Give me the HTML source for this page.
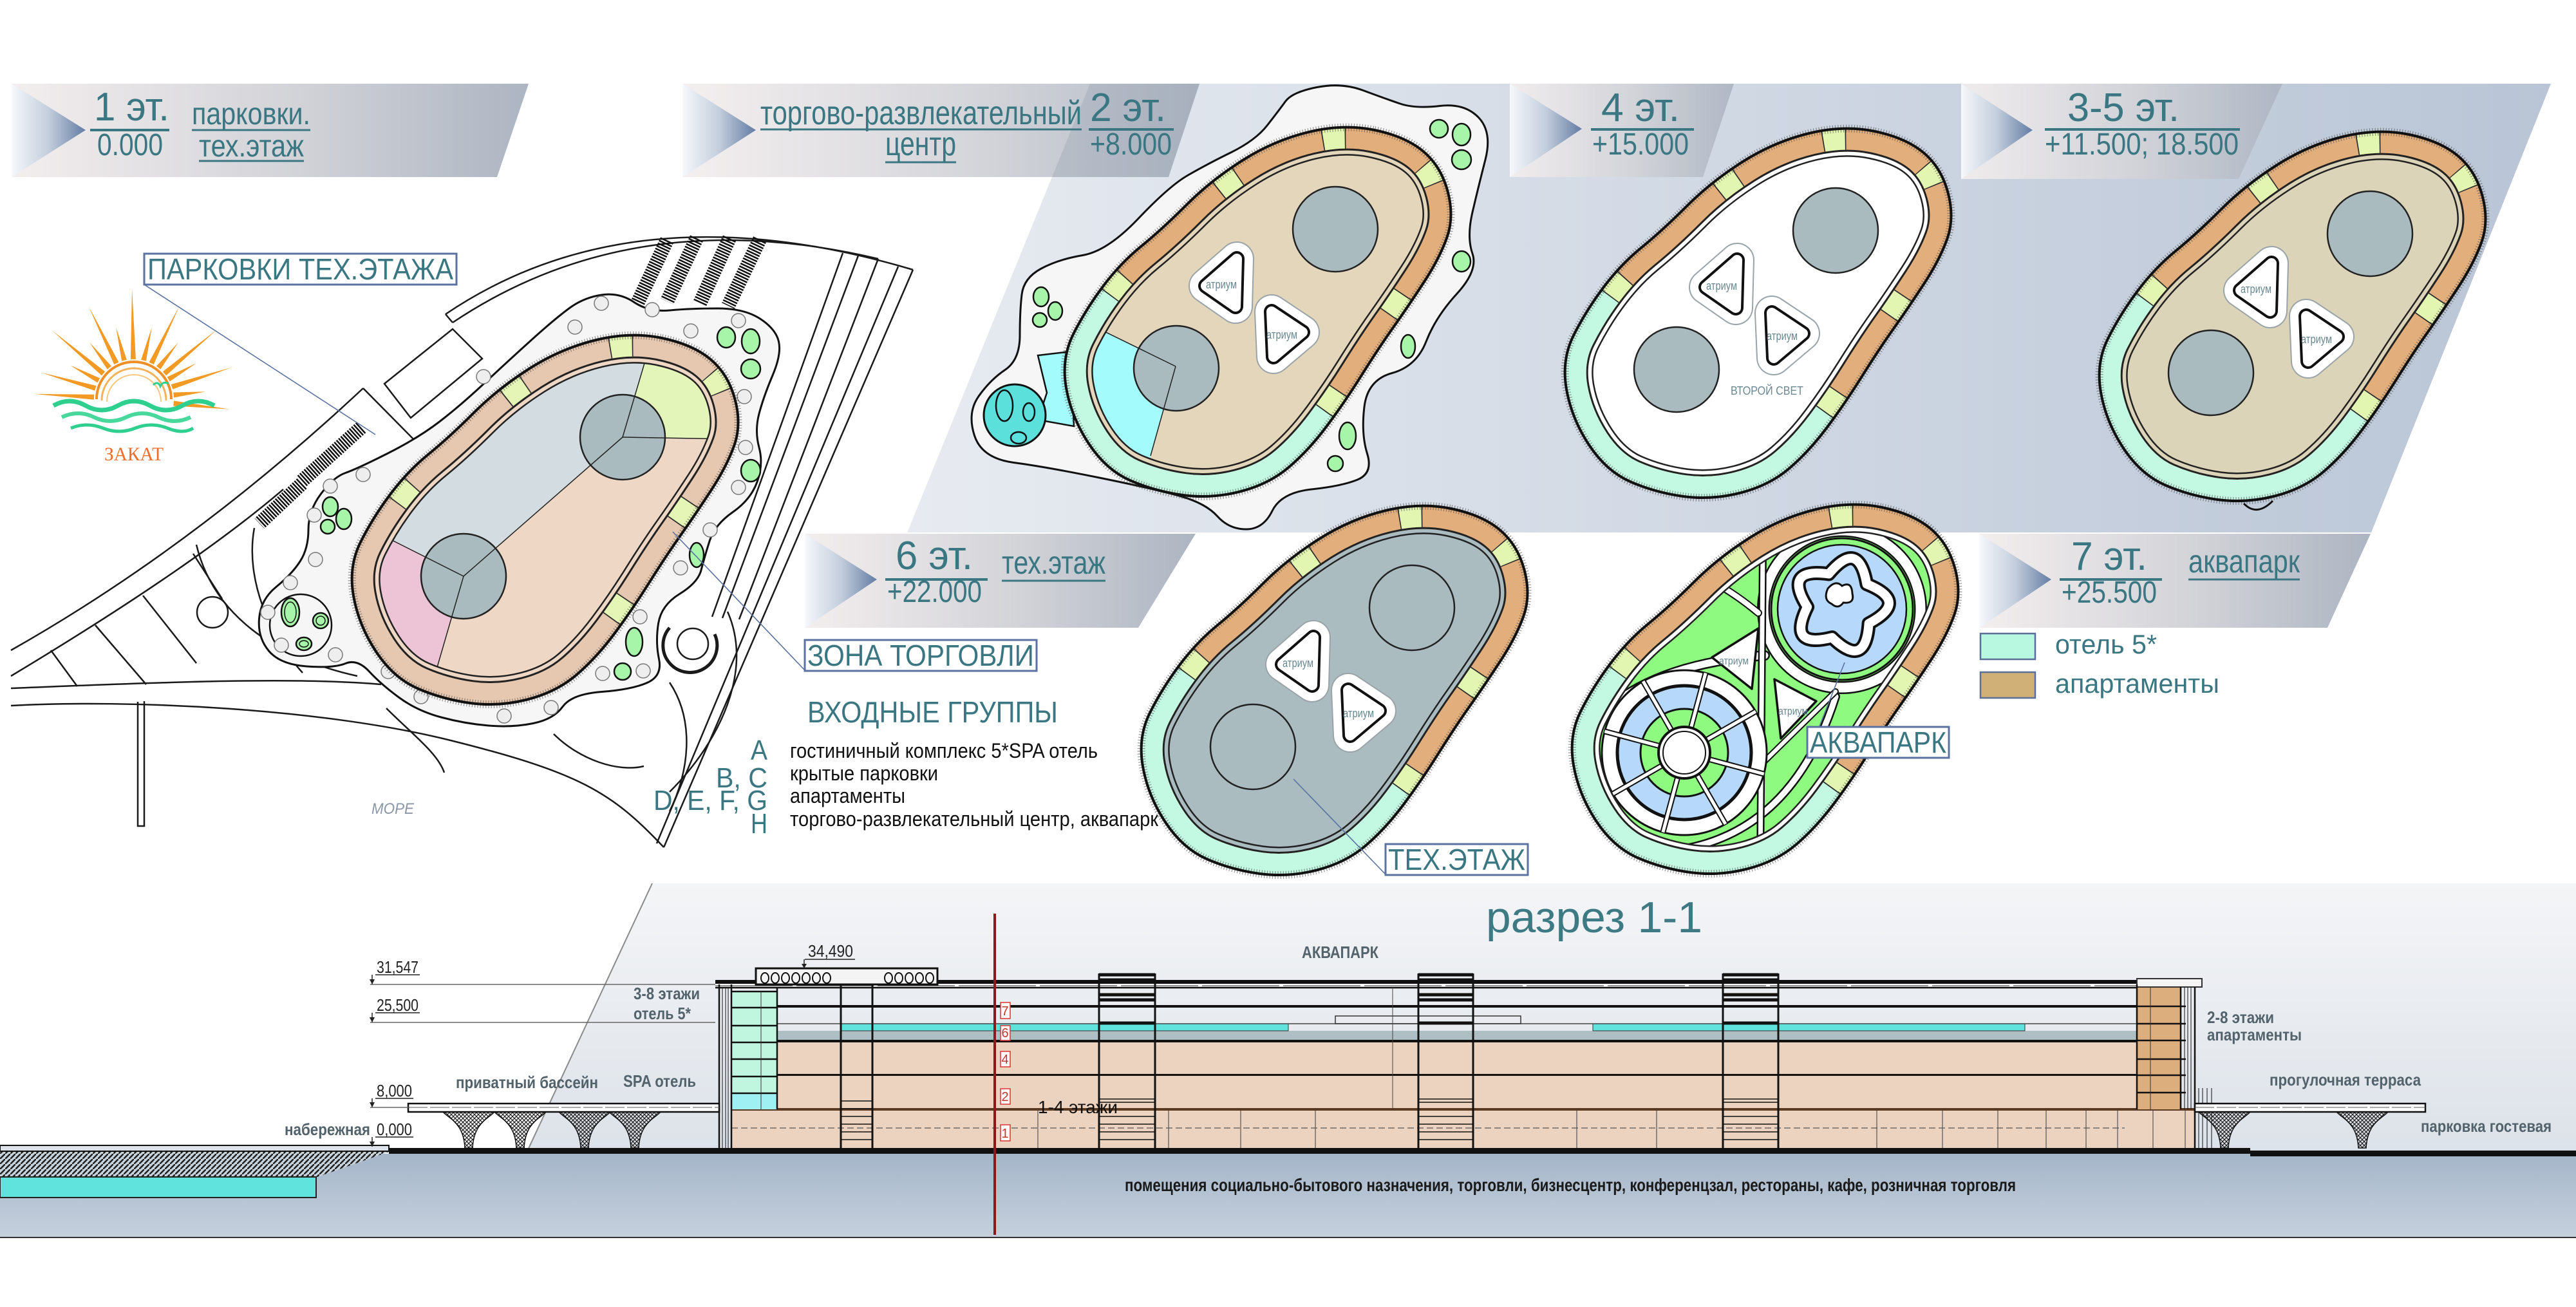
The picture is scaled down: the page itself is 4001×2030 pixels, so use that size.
<!DOCTYPE html>
<html><head><meta charset="utf-8">
<style>
html,body{margin:0;padding:0;background:#fff;width:4001px;height:2030px;overflow:hidden}
svg{display:block}
.n{font-family:"Liberation Sans Narrow","Liberation Sans",sans-serif}
.s{font-family:"Liberation Sans",sans-serif}
.tl{fill:#3b7782}
.g{fill:#52636b;font-weight:bold}
</style></head>
<body>
<svg width="4001" height="2030" viewBox="0 0 4001 2030" xmlns="http://www.w3.org/2000/svg">
<defs>
 <linearGradient id="bg1" x1="0" x2="1" y1="0" y2="0"><stop offset="0" stop-color="#f3eeee"/><stop offset=".55" stop-color="#d2d3d8"/><stop offset="1" stop-color="#adb5c2"/></linearGradient>
 <linearGradient id="chev" x1="0" x2="1" y1="0" y2="0"><stop offset="0" stop-color="#f6f8fb"/><stop offset=".5" stop-color="#c3cedd"/><stop offset="1" stop-color="#647da4"/></linearGradient>
 <linearGradient id="pan" gradientUnits="userSpaceOnUse" x1="1409" y1="0" x2="3960" y2="0"><stop offset="0" stop-color="#e7ebf1"/><stop offset="1" stop-color="#b9c5d6"/></linearGradient>
 <linearGradient id="sec" x1="0" y1="0" x2="0" y2="1"><stop offset="0" stop-color="#f4f5f7"/><stop offset="1" stop-color="#dce2e9"/></linearGradient>
 <linearGradient id="gnd" x1="0" y1="0" x2="0" y2="1"><stop offset="0" stop-color="#a5b6c9"/><stop offset="1" stop-color="#c5d0dd"/></linearGradient>
 <pattern id="lat" width="6" height="6" patternUnits="userSpaceOnUse"><path d="M0,0L6,6M6,0L0,6" stroke="#222" stroke-width="1.2"/></pattern>
 <pattern id="hat" width="8" height="8" patternUnits="userSpaceOnUse"><rect width="8" height="8" fill="#c9d3dc"/><path d="M0,8L8,0" stroke="#222" stroke-width="2.5"/></pattern>
 <path id="bean" d="M482,6 Q530,16 557.5,39 Q585,62 595.5,101 Q606,140 594.5,172.5 Q583,205 558.5,242.5 Q534,280 511,312.5 Q488,345 462,386.5 Q436,428 408,465.5 Q380,503 349,529.5 Q318,556 273,567.5 Q228,579 184.5,573 Q141,567 103,550.5 Q65,534 38,493 Q11,452 3,406.5 Q-5,361 14,323 Q33,285 60,249 Q87,213 119.5,186.5 Q152,160 190,122 Q228,84 277,53 Q326,22 380,9 Q434,-4 482,6 Z"/>
 <path id="beanL" pathLength="1000" d="M482,6 Q530,16 557.5,39 Q585,62 595.5,101 Q606,140 594.5,172.5 Q583,205 558.5,242.5 Q534,280 511,312.5 Q488,345 462,386.5 Q436,428 408,465.5 Q380,503 349,529.5 Q318,556 273,567.5 Q228,579 184.5,573 Q141,567 103,550.5 Q65,534 38,493 Q11,452 3,406.5 Q-5,361 14,323 Q33,285 60,249 Q87,213 119.5,186.5 Q152,160 190,122 Q228,84 277,53 Q326,22 380,9 Q434,-4 482,6 Z"/>
 <clipPath id="bc"><use href="#bean"/></clipPath>
 <g id="ring" clip-path="url(#bc)" fill="none">
  <use href="#bean" stroke="#222" stroke-width="88"/>
  <use href="#bean" stroke="currentColor" stroke-width="83"/>
  <use href="#bean" stroke="#222" stroke-width="72"/>
  <use href="#bean" stroke="#e2ae7c" stroke-width="66"/>
  <use href="#beanL" stroke="#c3f8e2" stroke-width="66" stroke-dasharray="0 303 421 276"/>
  <use href="#beanL" stroke="#2a2a2a" stroke-width="66" stroke-dasharray="0 56 22 113 22 79 22 399 22 112 22 84 22 25"/>
  <use href="#beanL" stroke="#e3f6b1" stroke-width="66" stroke-dasharray="0 57 20 115 20 81 20 401 20 114 20 86 20 26"/>
 </g>
 <g id="ringS" clip-path="url(#bc)" fill="none">
  <use href="#bean" stroke="#222" stroke-width="88"/>
  <use href="#bean" stroke="currentColor" stroke-width="83"/>
  <use href="#bean" stroke="#222" stroke-width="72"/>
  <use href="#bean" stroke="#e6c7af" stroke-width="66"/>
  <use href="#beanL" stroke="#2a2a2a" stroke-width="66" stroke-dasharray="0 56 22 113 22 79 22 399 22 112 22 84 22 25"/>
  <use href="#beanL" stroke="#e4f5b5" stroke-width="66" stroke-dasharray="0 57 20 115 20 81 20 401 20 114 20 86 20 26"/>
 </g>
 <g id="outl" fill="none">
  <use href="#bean" stroke="#444" stroke-width="12" stroke-dasharray="1.2 3" opacity=".55"/>
  <use href="#bean" stroke="#111" stroke-width="4"/>
 </g>
 <g id="circ" fill="#aabbbf" stroke="#222" stroke-width="2.5">
  <circle cx="421" cy="160" r="66"/><circle cx="174" cy="376" r="66"/>
 </g>
 <g id="atr">
  <g stroke-linejoin="round">
   <polygon points="268,206 266,280 220,248" fill="#fff" stroke="#9aa4a8" stroke-width="54"/>
   <polygon points="268,206 266,280 220,248" fill="#fff" stroke="#fff" stroke-width="50"/>
   <polygon points="268,206 266,280 220,248" fill="#111" stroke="#111" stroke-width="24"/>
   <polygon points="268,206 266,280 220,248" fill="#fff" stroke="#fff" stroke-width="16"/>
   <polygon points="322,288 370,320 325,358" fill="#fff" stroke="#9aa4a8" stroke-width="54"/>
   <polygon points="322,288 370,320 325,358" fill="#fff" stroke="#fff" stroke-width="50"/>
   <polygon points="322,288 370,320 325,358" fill="#111" stroke="#111" stroke-width="24"/>
   <polygon points="322,288 370,320 325,358" fill="#fff" stroke="#fff" stroke-width="16"/>
  </g>
  <text class="n" x="244" y="252" font-size="18" fill="#6a8891" text-anchor="middle" textLength="48" lengthAdjust="spacingAndGlyphs">атриум</text>
  <text class="n" x="338" y="330" font-size="18" fill="#6a8891" text-anchor="middle" textLength="48" lengthAdjust="spacingAndGlyphs">атриум</text>
 </g>
 <path id="col" d="M-40,1727 L40,1727 C30,1738 8,1744 6,1783 L-6,1783 C-8,1744 -30,1738 -40,1727Z" fill="url(#lat)" stroke="#111" stroke-width="1.5"/>
</defs>

<rect width="4001" height="2030" fill="#fff"/>

<!-- top panel -->
<polygon points="1693,130 3962,130 3683,827 1409,827" fill="url(#pan)"/>

<!-- banners -->
<polygon points="18,130 821,130 772,275 18,275" fill="url(#bg1)"/>
<polygon points="18,130 133,202 18,275" fill="url(#chev)"/>
<polygon points="1060,130 1863,130 1815,275 1060,275" fill="url(#bg1)" opacity=".93"/>
<polygon points="1693,130 1863,130 1815,275 1634,275" fill="#8d97a8" opacity=".25"/>
<polygon points="1060,130 1174,202 1060,275" fill="url(#chev)"/>
<polygon points="2345,130 2693,130 2645,275 2345,275" fill="url(#bg1)" opacity=".92"/>
<polygon points="2345,130 2457,200 2345,275" fill="url(#chev)"/>
<polygon points="3046,130 3545,130 3477,278 3046,278" fill="url(#bg1)" opacity=".92"/>
<polygon points="3046,130 3157,202 3046,278" fill="url(#chev)"/>
<polygon points="1250,829 1857,829 1768,975 1250,975" fill="url(#bg1)"/>
<polygon points="1250,829 1362,900 1250,975" fill="url(#chev)"/>
<polygon points="3074,829 3682,829 3615,975 3074,975" fill="url(#bg1)"/>
<polygon points="3074,829 3186,900 3074,975" fill="url(#chev)"/>

<!-- banner texts -->
<g class="n tl">
 <text x="146" y="187" font-size="62" textLength="117" lengthAdjust="spacingAndGlyphs">1 эт.</text>
 <text x="151" y="241" font-size="48" textLength="102" lengthAdjust="spacingAndGlyphs">0.000</text>
 <text x="298" y="193" font-size="48" textLength="184" lengthAdjust="spacingAndGlyphs">парковки.</text>
 <text x="309" y="243" font-size="48" textLength="163" lengthAdjust="spacingAndGlyphs">тех.этаж</text>
 <text x="1181" y="193" font-size="52" textLength="499" lengthAdjust="spacingAndGlyphs">торгово-развлекательный</text>
 <text x="1375" y="241" font-size="52" textLength="110" lengthAdjust="spacingAndGlyphs">центр</text>
 <text x="1693" y="188" font-size="62" textLength="118" lengthAdjust="spacingAndGlyphs">2 эт.</text>
 <text x="1693" y="240" font-size="48" textLength="127" lengthAdjust="spacingAndGlyphs">+8.000</text>
 <text x="2487" y="188" font-size="62" textLength="122" lengthAdjust="spacingAndGlyphs">4 эт.</text>
 <text x="2473" y="240" font-size="48" textLength="150" lengthAdjust="spacingAndGlyphs">+15.000</text>
 <text x="3211" y="188" font-size="62" textLength="174" lengthAdjust="spacingAndGlyphs">3-5 эт.</text>
 <text x="3176" y="240" font-size="48" textLength="301" lengthAdjust="spacingAndGlyphs">+11.500; 18.500</text>
 <text x="1391" y="884" font-size="62" textLength="120" lengthAdjust="spacingAndGlyphs">6 эт.</text>
 <text x="1378" y="935" font-size="48" textLength="147" lengthAdjust="spacingAndGlyphs">+22.000</text>
 <text x="1556" y="891" font-size="50" textLength="161" lengthAdjust="spacingAndGlyphs">тех.этаж</text>
 <text x="3217" y="885" font-size="62" textLength="118" lengthAdjust="spacingAndGlyphs">7 эт.</text>
 <text x="3202" y="936" font-size="48" textLength="148" lengthAdjust="spacingAndGlyphs">+25.500</text>
 <text x="3399" y="889" font-size="50" textLength="173" lengthAdjust="spacingAndGlyphs">аквапарк</text>
</g>
<g stroke="#3b7782" stroke-width="4">
 <line x1="140" y1="202" x2="263" y2="202"/>
 <line x1="298" y1="202" x2="482" y2="202" stroke-width="3"/>
 <line x1="309" y1="250" x2="472" y2="250" stroke-width="3"/>
 <line x1="1181" y1="201" x2="1680" y2="201" stroke-width="3"/>
 <line x1="1375" y1="252" x2="1485" y2="252" stroke-width="3"/>
 <line x1="1691" y1="201" x2="1823" y2="201"/>
 <line x1="2471" y1="201" x2="2631" y2="201"/>
 <line x1="3176" y1="201" x2="3479" y2="201"/>
 <line x1="1375" y1="900" x2="1534" y2="900"/>
 <line x1="1556" y1="902" x2="1717" y2="902" stroke-width="3"/>
 <line x1="3199" y1="900" x2="3358" y2="900"/>
 <line x1="3399" y1="900" x2="3572" y2="900" stroke-width="3"/>
</g>

<!-- logo -->
<g transform="translate(208,620)">
 <g fill="#f39a24">
  <polygon points="62,-4 150,0 62,4" transform="rotate(6)"/>
  <polygon points="62,-4 112,0 62,4" transform="rotate(-6)"/>
  <polygon points="62,-4 160,0 62,4" transform="rotate(-18)"/>
  <polygon points="62,-4 112,0 62,4" transform="rotate(-30)"/>
  <polygon points="62,-4 168,0 62,4" transform="rotate(-40)"/>
  <polygon points="62,-4 112,0 62,4" transform="rotate(-52)"/>
  <polygon points="62,-4 160,0 62,4" transform="rotate(-64)"/>
  <polygon points="62,-4 115,0 62,4" transform="rotate(-76)"/>
  <polygon points="62,-4 172,0 62,4" transform="rotate(-91)"/>
  <polygon points="62,-4 115,0 62,4" transform="rotate(-104)"/>
  <polygon points="62,-4 160,0 62,4" transform="rotate(-116)"/>
  <polygon points="62,-4 112,0 62,4" transform="rotate(-128)"/>
  <polygon points="62,-4 166,0 62,4" transform="rotate(-140)"/>
  <polygon points="62,-4 112,0 62,4" transform="rotate(-152)"/>
  <polygon points="62,-4 150,0 62,4" transform="rotate(-164)"/>
  <polygon points="62,-4 155,0 62,4" transform="rotate(-177)"/>
 </g>
 <g fill="none">
  <path d="M-58,0 A58,58 0 0 1 58,0" stroke="#f08f25" stroke-width="4"/>
  <path d="M-50,2 A50,50 0 0 1 50,2" stroke="#f4b35a" stroke-width="3"/>
  <path d="M-42,4 A42,42 0 0 1 42,4" stroke="#f7c87a" stroke-width="2"/>
  <path d="M-125,10 q25,-14 50,0 t50,0 t50,0 t50,0 t50,0" stroke="#2fcf8f" stroke-width="7"/>
  <path d="M-112,28 q25,-12 50,0 t50,0 t50,0 t50,0" stroke="#48d79c" stroke-width="6"/>
  <path d="M-98,45 q25,-10 50,0 t50,0 t50,0 t40,0" stroke="#2fcf8f" stroke-width="5"/>
  <path d="M30,-22 q7,-7 11,2 q4,-9 13,-4" stroke="#2fcf8f" stroke-width="3"/>
 </g>
</g>
<text x="162" y="715" font-family="Liberation Serif,serif" font-size="30" fill="#ef6d2a" textLength="92" lengthAdjust="spacingAndGlyphs">ЗАКАТ</text>

<!-- site plan roads -->
<g fill="none" stroke="#1a1a1a" stroke-width="2.5">
 <path d="M692,488 Q985,290 1418,419"/>
 <path d="M703,501 Q985,312 1364,402"/>
 <path d="M692,488 L703,501"/>
 <path d="M1418,419 L1031,1316"/>
 <path d="M1395,414 L1020,1310"/>
 <path d="M1309,393 L1106,958"/>
 <path d="M1333,397 L1122,960"/>
 <path d="M1364,402 L1148,962"/>
 <polygon points="597,596 703,511 749,557 638,649"/>
 <path d="M564,603 L648,688"/>
 <path d="M17,1010 Q300,850 564,603"/>
 <path d="M17,1050 Q300,880 440,760"/>
 <path d="M17,1069 C200,1062 450,1050 592,1063"/>
 <path d="M17,1096 C200,1086 500,1100 700,1150 S950,1230 1031,1316"/>
 <path d="M214,1090 L214,1283 L224,1283 L224,1089"/>
 <path d="M79,1010 L120,1066 M148,971 L227,1063 M222,925 L305,1030 M300,860 L345,930"/>
 <path d="M305,846 C330,950 420,1020 555,1050"/>
 <path d="M395,820 C380,900 420,990 470,1045"/>
 <path d="M600,1100 C640,1140 680,1170 690,1200"/>
 <path d="M860,1140 C900,1180 960,1200 1000,1190"/>
 <path d="M1040,1060 C1080,1120 1070,1200 1040,1260"/>
 <path d="M1130,950 C1170,1040 1120,1150 1040,1230"/>
 <circle cx="330" cy="951" r="24"/>
 <circle cx="1076" cy="1000" r="24"/>
 <path d="M1040,975 A42,42 0 1,0 1110,985" stroke-width="5"/>
</g>
<g stroke="#111" stroke-width="22" stroke-dasharray="2.5 2" fill="none">
 <line x1="1036" y1="373" x2="990" y2="471"/>
 <line x1="1082" y1="370" x2="1036" y2="468"/>
 <line x1="1133" y1="370" x2="1087" y2="471"/>
 <line x1="1180" y1="372" x2="1131" y2="475"/>
 <line x1="561" y1="664" x2="469" y2="747"/>
 <line x1="469" y1="751" x2="403" y2="813"/>
</g>
<!-- site blob -->
<path d="M536.5,734.5 Q555,728 602.5,704 Q650,680 682.5,655 Q715,630 752.5,595 Q790,560 826,527.5 Q862,495 884.5,478.5 Q907,462 934.5,458 Q962,454 985,469.5 Q1008,485 1040.5,482 Q1073,479 1114.5,479 Q1156,479 1180.5,495 Q1205,511 1209.5,530.5 Q1214,550 1200,583 Q1186,616 1179,642.5 Q1172,669 1179,695 Q1186,721 1176,748.5 Q1166,776 1138,795.5 Q1110,815 1102,840.5 Q1094,866 1089,885.5 Q1084,905 1055.5,922.5 Q1027,940 1022.5,968.5 Q1018,997 1023.5,1023.5 Q1029,1050 1005,1060.5 Q981,1071 934.5,1074.5 Q888,1078 874,1097.5 Q860,1117 828,1123.5 Q796,1130 759,1127 Q722,1124 685,1114 Q648,1104 620,1083.5 Q592,1063 573.5,1043 Q555,1023 536.5,1030.5 Q518,1038 476.5,1035 Q435,1032 417.5,1011 Q400,990 402.5,960.5 Q405,931 429,911.5 Q453,892 466,872 Q479,852 479,822.5 Q479,793 498.5,767 Q518,741 536.5,734.5 Z" fill="#f6f6f6" stroke="#111" stroke-width="3"/>
<circle cx="467" cy="971" r="48" fill="none" stroke="#111" stroke-width="2.5"/>
<g fill="#eeeeee" stroke="#777" stroke-width="1.5">
 <circle cx="934" cy="471" r="11"/><circle cx="893" cy="508" r="11"/><circle cx="1013" cy="481" r="11"/><circle cx="1073" cy="514" r="11"/><circle cx="1147" cy="498" r="11"/><circle cx="1156" cy="616" r="11"/><circle cx="1158" cy="695" r="11"/><circle cx="1147" cy="757" r="11"/><circle cx="1103" cy="823" r="11"/><circle cx="1057" cy="882" r="11"/><circle cx="994" cy="958" r="11"/><circle cx="936" cy="1046" r="11"/><circle cx="999" cy="1042" r="11"/><circle cx="856" cy="1099" r="11"/><circle cx="783" cy="1112" r="11"/><circle cx="654" cy="1082" r="11"/><circle cx="603" cy="1043" r="11"/><circle cx="521" cy="1017" r="11"/><circle cx="437" cy="1002" r="11"/><circle cx="416" cy="951" r="11"/><circle cx="451" cy="905" r="11"/><circle cx="490" cy="869" r="11"/><circle cx="488" cy="800" r="11"/><circle cx="513" cy="755" r="11"/><circle cx="564" cy="737" r="11"/><circle cx="751" cy="585" r="11"/>
</g>
<g fill="#a6f5a8" stroke="#111" stroke-width="2.5">
 <ellipse cx="1128" cy="524" rx="14" ry="16"/><ellipse cx="1166" cy="530" rx="14" ry="19"/><circle cx="1166" cy="573" r="15"/><ellipse cx="1166" cy="731" rx="15" ry="17"/><ellipse cx="1082" cy="862" rx="11" ry="19"/><ellipse cx="985" cy="997" rx="13" ry="22"/><circle cx="967" cy="1043" r="13"/><ellipse cx="513" cy="787" rx="12" ry="15"/><ellipse cx="534" cy="806" rx="12" ry="16"/><circle cx="509" cy="818" r="11"/><ellipse cx="451" cy="951" rx="14" ry="22"/><circle cx="498" cy="964" r="12"/><ellipse cx="472" cy="1000" rx="12" ry="10"/>
</g>
<g fill="none" stroke="#111" stroke-width="1.5"><ellipse cx="451" cy="951" rx="9" ry="16"/><circle cx="498" cy="964" r="7"/><ellipse cx="472" cy="1000" rx="7" ry="5"/></g>

<!-- site building -->
<g transform="translate(546,519)">
 <use href="#bean" fill="#eed8c5"/>
 <g clip-path="url(#bc)">
  <polygon points="174,376 421,160 458,35 470,-60 -60,-60 -60,290 37,307" fill="#d3dde1"/>
  <polygon points="421,160 458,35 470,-60 700,-60 700,165 592,163" fill="#e4f5b9"/>
  <polygon points="174,376 37,307 -60,290 -60,700 120,700 129,531" fill="#ecc4d6"/>
 </g>
 <use href="#circ" fill="#b2c3c7"/>
 <g stroke="#222" stroke-width="1.5"><line x1="174" y1="376" x2="421" y2="160"/><line x1="421" y1="160" x2="458" y2="35"/><line x1="421" y1="160" x2="592" y2="163"/><line x1="174" y1="376" x2="37" y2="307"/><line x1="174" y1="376" x2="129" y2="531"/></g>
 <use href="#ringS" color="#eed8c5"/>
 <use href="#outl"/>
</g>

<!-- plan 2 blob -->
<path d="M1996.5,157.5 Q2007,143 2045.5,135.5 Q2084,128 2117.5,140.5 Q2151,153 2174.5,161 Q2198,169 2236.5,164.5 Q2275,160 2296.5,182.5 Q2318,205 2307,248 Q2296,291 2287,329.5 Q2278,368 2287,394 Q2296,420 2263,456 Q2230,492 2215,530.5 Q2200,569 2162,579.5 Q2124,590 2119,632 Q2114,674 2123.5,704.5 Q2133,735 2108.5,745 Q2084,755 2037,760 Q1990,765 1976,793.5 Q1962,822 1935.5,822 Q1909,822 1891,802 Q1873,782 1834.5,771 Q1796,760 1710,742.5 Q1624,725 1574.5,718.5 Q1525,712 1513.5,676.5 Q1502,641 1520,615.5 Q1538,590 1561,574.5 Q1584,559 1584,521 Q1584,483 1587,457.5 Q1590,432 1616.5,417.5 Q1643,403 1681.5,396.5 Q1720,390 1768,339.5 Q1816,289 1844.5,272.5 Q1873,256 1911.5,237 Q1950,218 1968,195 Q1986,172 1996.5,157.5 Z" fill="#f6f6f6" stroke="#111" stroke-width="3"/>
<g fill="#a6f5a8" stroke="#111" stroke-width="2.5">
 <circle cx="2235" cy="200" r="14"/><ellipse cx="2270" cy="209" rx="14" ry="17"/><circle cx="2270" cy="248" r="15"/><ellipse cx="2270" cy="406" rx="14" ry="16"/><ellipse cx="2187" cy="538" rx="11" ry="18"/><ellipse cx="2093" cy="677" rx="13" ry="21"/><circle cx="2074" cy="720" r="12"/><ellipse cx="1617" cy="461" rx="12" ry="15"/><ellipse cx="1639" cy="483" rx="11" ry="14"/><circle cx="1615" cy="497" r="11"/>
</g>
<polygon points="1612,552 1662,546 1668,662 1612,652 1626,610" fill="#a3fbfb" stroke="#111" stroke-width="2.5"/>
<circle cx="1576" cy="645" r="48" fill="#5be0dc" stroke="#111" stroke-width="3"/>
<g fill="none" stroke="#111" stroke-width="2.5"><ellipse cx="1560" cy="630" rx="13" ry="24"/><ellipse cx="1598" cy="640" rx="9" ry="14"/><ellipse cx="1582" cy="680" rx="12" ry="9"/></g>

<!-- plan 2 -->
<g transform="translate(1653,196)">
 <use href="#bean" fill="#e4d6ba"/>
 <g clip-path="url(#bc)"><polygon points="173,373 36,306 -60,290 -60,700 110,700 134,512" fill="#a3fbfb"/></g>
 <use href="#circ"/>
 <g stroke="#222" stroke-width="1.5"><line x1="36" y1="306" x2="173" y2="373"/><line x1="173" y1="373" x2="134" y2="512"/></g>
 <use href="#atr"/>
 <use href="#ring" color="#e4d6ba"/>
 <use href="#outl"/>
</g>

<!-- plan 4 -->
<g transform="translate(2430,198)">
 <use href="#bean" fill="#ffffff"/>
 <use href="#circ"/>
 <use href="#atr"/>
 <text class="n" x="258" y="415" font-size="18" fill="#6a8891" textLength="113" lengthAdjust="spacingAndGlyphs">ВТОРОЙ СВЕТ</text>
 <use href="#ring" color="#ffffff"/>
 <use href="#outl"/>
</g>

<!-- plan 3-5 -->
<g transform="translate(3260,203)">
 <use href="#bean" fill="#dcd4b9"/>
 <use href="#circ"/>
 <use href="#atr"/>
 <use href="#ring" color="#dcd4b9"/>
 <use href="#outl"/>
 <path d="M225,579 Q245,600 270,575" fill="none" stroke="#111" stroke-width="3"/>
</g>

<!-- plan 6 -->
<g transform="translate(1772,784)">
 <use href="#bean" fill="#abbcc0"/>
 <use href="#circ" fill="none"/>
 <use href="#atr"/>
 <use href="#ring" color="#abbcc0"/>
 <use href="#outl"/>
</g>

<!-- plan 7 -->
<g transform="translate(2441,782)">
 <use href="#bean" fill="#8efb80"/>
 <g clip-path="url(#bc)">
  <g fill="none" stroke-linecap="round">
   <circle cx="420" cy="164" r="122" stroke="#111" stroke-width="20"/>
   <circle cx="420" cy="164" r="122" stroke="#fff" stroke-width="15"/>
   <path d="M30,345 Q110,250 300,236" stroke="#111" stroke-width="16"/>
   <path d="M30,345 Q110,250 300,236" stroke="#fff" stroke-width="11"/>
   <path d="M150,540 Q340,520 410,300" stroke="#111" stroke-width="14"/>
   <path d="M150,540 Q340,520 410,300" stroke="#fff" stroke-width="9"/>
   <line x1="293" y1="570" x2="297" y2="70" stroke="#111" stroke-width="12"/>
   <line x1="293" y1="570" x2="297" y2="70" stroke="#fff" stroke-width="7"/>
   <line x1="300" y1="400" x2="410" y2="292" stroke="#111" stroke-width="10"/>
   <line x1="300" y1="400" x2="410" y2="292" stroke="#fff" stroke-width="6"/>
   <path d="M170,100 Q230,120 290,170" stroke="#111" stroke-width="12"/>
   <path d="M170,100 Q230,120 290,170" stroke="#fff" stroke-width="8"/>
  </g>
  <circle cx="420" cy="164" r="110" fill="#8efb80" stroke="#111" stroke-width="3"/>
  <circle cx="420" cy="164" r="100" fill="#b5d8fb" stroke="#111" stroke-width="2.5"/>
  <path d="M399.4,109.5 Q446,53.7 458.4,125.3 Q525.9,152.3 461.6,186.3 Q456.7,258.8 404.5,208.2 Q334.1,226 366.1,160.7 Q327.4,99.2 399.4,109.5 Z" fill="#b5d8fb" stroke="#111" stroke-width="22" stroke-linejoin="round"/>
  <path d="M399.4,109.5 Q446,53.7 458.4,125.3 Q525.9,152.3 461.6,186.3 Q456.7,258.8 404.5,208.2 Q334.1,226 366.1,160.7 Q327.4,99.2 399.4,109.5 Z" fill="none" stroke="#fff" stroke-width="14" stroke-linejoin="round"/>
  <path d="M398,132 Q410,118 420,128 Q435,120 436,140 Q440,156 422,154 Q414,165 404,156 Q390,150 398,132Z" fill="#fff" stroke="#111" stroke-width="3"/>
  <circle cx="175" cy="387" r="128" fill="#fff" stroke="#111" stroke-width="3"/>
  <circle cx="175" cy="387" r="104" fill="#b5d8fb" stroke="#111" stroke-width="5"/>
  <circle cx="175" cy="387" r="68" fill="#8efb80" stroke="#111" stroke-width="3"/>
  <g transform="translate(175,387)" stroke-linecap="butt">
   <g stroke="#111" stroke-width="9">
    <line x1="36" y1="0" x2="128" y2="0" transform="rotate(15)"/><line x1="36" y1="0" x2="128" y2="0" transform="rotate(60)"/><line x1="36" y1="0" x2="128" y2="0" transform="rotate(105)"/><line x1="36" y1="0" x2="128" y2="0" transform="rotate(150)"/><line x1="36" y1="0" x2="128" y2="0" transform="rotate(195)"/><line x1="36" y1="0" x2="128" y2="0" transform="rotate(240)"/><line x1="36" y1="0" x2="128" y2="0" transform="rotate(285)"/><line x1="36" y1="0" x2="128" y2="0" transform="rotate(330)"/>
   </g>
   <g stroke="#fff" stroke-width="5">
    <line x1="36" y1="0" x2="128" y2="0" transform="rotate(15)"/><line x1="36" y1="0" x2="128" y2="0" transform="rotate(60)"/><line x1="36" y1="0" x2="128" y2="0" transform="rotate(105)"/><line x1="36" y1="0" x2="128" y2="0" transform="rotate(150)"/><line x1="36" y1="0" x2="128" y2="0" transform="rotate(195)"/><line x1="36" y1="0" x2="128" y2="0" transform="rotate(240)"/><line x1="36" y1="0" x2="128" y2="0" transform="rotate(285)"/><line x1="36" y1="0" x2="128" y2="0" transform="rotate(330)"/>
   </g>
   <circle r="40" fill="#fff" stroke="#111" stroke-width="4"/>
   <circle r="33" fill="none" stroke="#111" stroke-width="2"/>
  </g>
  <polygon points="218,239 290,194 280,288" fill="#fff" stroke="#111" stroke-width="3.5" stroke-linejoin="round"/>
  <polygon points="315,273 380,307 325,365" fill="#fff" stroke="#111" stroke-width="3.5" stroke-linejoin="round"/>
  <text class="n" x="252" y="250" font-size="17" fill="#6a8891" text-anchor="middle" textLength="46" lengthAdjust="spacingAndGlyphs">атриум</text>
  <text class="n" x="344" y="328" font-size="17" fill="#6a8891" text-anchor="middle" textLength="46" lengthAdjust="spacingAndGlyphs">атриум</text>
 </g>
 <use href="#ring" color="#ffffff"/>
 <use href="#outl"/>
</g>

<!-- leaders -->
<g stroke="#5a72a0" stroke-width="1.6" fill="none">
 <line x1="224" y1="442" x2="583" y2="675"/>
 <line x1="1250" y1="1041" x2="1045" y2="826"/>
 <line x1="2152" y1="1358" x2="2009" y2="1210"/>
 <line x1="2807" y1="1176" x2="2865" y2="1029"/>
</g>
<!-- label boxes -->
<g fill="#fff" stroke="#5b73a0" stroke-width="3">
 <rect x="224" y="394" width="485" height="48"/>
 <rect x="1250" y="994" width="360" height="48"/>
 <rect x="2152" y="1311" width="221" height="48"/>
 <rect x="2807" y="1129" width="220" height="48"/>
</g>
<g class="n tl">
 <text x="229" y="434" font-size="46" textLength="475" lengthAdjust="spacingAndGlyphs">ПАРКОВКИ ТЕХ.ЭТАЖА</text>
 <text x="1254" y="1034" font-size="46" textLength="352" lengthAdjust="spacingAndGlyphs">ЗОНА ТОРГОВЛИ</text>
 <text x="2156" y="1351" font-size="46" textLength="213" lengthAdjust="spacingAndGlyphs">ТЕХ.ЭТАЖ</text>
 <text x="2811" y="1169" font-size="46" textLength="212" lengthAdjust="spacingAndGlyphs">АКВАПАРК</text>
 <text x="1254" y="1122" font-size="46" textLength="389" lengthAdjust="spacingAndGlyphs">ВХОДНЫЕ ГРУППЫ</text>
 <text x="1166" y="1180" font-size="44" textLength="26" lengthAdjust="spacingAndGlyphs">A</text>
 <text x="1112" y="1223" font-size="44" textLength="80" lengthAdjust="spacingAndGlyphs">B, C</text>
 <text x="1015" y="1258" font-size="44" textLength="177" lengthAdjust="spacingAndGlyphs">D, E, F, G</text>
 <text x="1166" y="1294" font-size="44" textLength="26" lengthAdjust="spacingAndGlyphs">H</text>
 <text x="3192" y="1015" font-size="42" textLength="158" lengthAdjust="spacingAndGlyphs">отель 5*</text>
 <text x="3192" y="1076" font-size="42" textLength="255" lengthAdjust="spacingAndGlyphs">апартаменты</text>
</g>
<g class="n" fill="#111" font-size="32">
 <text x="1227" y="1177" textLength="478" lengthAdjust="spacingAndGlyphs">гостиничный комплекс 5*SPA отель</text>
 <text x="1227" y="1212" textLength="230" lengthAdjust="spacingAndGlyphs">крытые парковки</text>
 <text x="1227" y="1247" textLength="179" lengthAdjust="spacingAndGlyphs">апартаменты</text>
 <text x="1227" y="1283" textLength="572" lengthAdjust="spacingAndGlyphs">торгово-развлекательный центр, аквапарк</text>
</g>
<text class="n" x="577" y="1264" font-size="24" font-style="italic" fill="#8a96a6" textLength="66" lengthAdjust="spacingAndGlyphs">МОРЕ</text>
<rect x="3076" y="984" width="85" height="40" fill="#b8f7e0" stroke="#5a6f95" stroke-width="2.5"/>
<rect x="3076" y="1044" width="85" height="40" fill="#d1b078" stroke="#5a6f95" stroke-width="2.5"/>

<!-- SECTION -->
<polygon points="1013,1372 4001,1372 4001,1792 818,1792" fill="url(#sec)"/>
<line x1="1013" y1="1372" x2="818" y2="1790" stroke="#8a8a8a" stroke-width="2"/>
<rect x="0" y="1792" width="4001" height="131" fill="url(#gnd)"/>
<line x1="0" y1="1922" x2="4001" y2="1922" stroke="#333" stroke-width="2"/>
<rect x="0" y="1779" width="604" height="9" fill="#dde3ea" stroke="#111" stroke-width="2"/>
<polygon points="0,1789 604,1789 493,1828 0,1828" fill="url(#hat)"/>
<rect x="0" y="1828" width="491" height="32" fill="#5fe3dc" stroke="#222" stroke-width="2"/>

<!-- building -->
<rect x="1136" y="1723" width="2273" height="60" fill="#ebd3c0"/>
<rect x="1207" y="1616" width="2112" height="107" fill="#ebd3c0"/>
<rect x="1207" y="1601" width="2112" height="15" fill="#aebfc4"/>
<rect x="1306" y="1590" width="695" height="11" fill="#5fe3dc" stroke="#333" stroke-width="1"/>
<rect x="2474" y="1590" width="671" height="11" fill="#5fe3dc" stroke="#333" stroke-width="1"/>
<line x1="1207" y1="1590" x2="3319" y2="1590" stroke="#444" stroke-width="1.5"/>
<rect x="2074" y="1578" width="288" height="12" fill="none" stroke="#333" stroke-width="1.5"/>
<rect x="1111" y="1522" width="2208" height="6" fill="#111"/>
<rect x="1111" y="1528" width="2208" height="5" fill="#fafafa"/>
<line x1="1111" y1="1534" x2="3319" y2="1534" stroke="#111" stroke-width="2.5"/>
<line x1="1111" y1="1531" x2="3319" y2="1531" stroke="#333" stroke-width="1" stroke-dasharray="120 6"/>
<rect x="1207" y="1561" width="2112" height="4" fill="#111"/>
<rect x="1207" y="1615" width="2112" height="4" fill="#111"/>
<rect x="1136" y="1668" width="2183" height="3" fill="#111"/>
<rect x="1136" y="1721" width="2273" height="4" fill="#5a3a22"/>
<line x1="2163" y1="1534" x2="2163" y2="1721" stroke="#444" stroke-width="1"/>
<g stroke="#555" stroke-width="1.2">
 <line x1="1612" y1="1725" x2="1612" y2="1783"/><line x1="1815" y1="1725" x2="1815" y2="1783"/><line x1="1927" y1="1725" x2="1927" y2="1783"/><line x1="2043" y1="1725" x2="2043" y2="1783"/><line x1="2449" y1="1725" x2="2449" y2="1783"/><line x1="2573" y1="1725" x2="2573" y2="1783"/><line x1="2915" y1="1725" x2="2915" y2="1783"/><line x1="3017" y1="1725" x2="3017" y2="1783"/><line x1="3103" y1="1725" x2="3103" y2="1783"/><line x1="3178" y1="1725" x2="3178" y2="1783"/><line x1="3240" y1="1725" x2="3240" y2="1783"/><line x1="3289" y1="1725" x2="3289" y2="1783"/><line x1="3344" y1="1725" x2="3344" y2="1783"/><line x1="3394" y1="1725" x2="3394" y2="1783"/>
 <line x1="1136" y1="1752" x2="3300" y2="1752" stroke-dasharray="10 5"/>
</g>
<!-- stair towers -->
<g fill="none" stroke="#111">
 <g stroke-width="3">
  <line x1="1707" y1="1512" x2="1707" y2="1783"/><line x1="1794" y1="1512" x2="1794" y2="1783"/>
  <line x1="2203" y1="1512" x2="2203" y2="1783"/><line x1="2288" y1="1512" x2="2288" y2="1783"/>
  <line x1="2676" y1="1512" x2="2676" y2="1783"/><line x1="2762" y1="1512" x2="2762" y2="1783"/>
  <line x1="1306" y1="1504" x2="1306" y2="1783"/><line x1="1355" y1="1504" x2="1355" y2="1783"/>
 </g>
 <g stroke-width="5">
  <path d="M1707,1514 L1794,1514 M1707,1522 L1794,1522 M1707,1545 L1794,1545 M1707,1553 L1794,1553 M1707,1589 L1794,1589"/>
  <path d="M2203,1514 L2288,1514 M2203,1522 L2288,1522 M2203,1545 L2288,1545 M2203,1553 L2288,1553 M2203,1589 L2288,1589"/>
  <path d="M2676,1514 L2762,1514 M2676,1522 L2762,1522 M2676,1545 L2762,1545 M2676,1553 L2762,1553 M2676,1589 L2762,1589"/>
 </g>
 <g stroke-width="1.5">
  <path d="M1707,1707 L1794,1707 M1707,1712 L1794,1712 M1707,1734 L1794,1734 M1707,1746 L1794,1746 M1707,1758 L1794,1758 M1707,1770 L1794,1770"/>
  <path d="M2203,1707 L2288,1707 M2203,1712 L2288,1712 M2203,1734 L2288,1734 M2203,1746 L2288,1746 M2203,1758 L2288,1758 M2203,1770 L2288,1770"/>
  <path d="M2676,1707 L2762,1707 M2676,1712 L2762,1712 M2676,1734 L2762,1734 M2676,1746 L2762,1746 M2676,1758 L2762,1758 M2676,1770 L2762,1770"/>
  <path d="M1306,1710 L1355,1710 M1306,1722 L1355,1722 M1306,1734 L1355,1734 M1306,1746 L1355,1746 M1306,1758 L1355,1758 M1306,1770 L1355,1770"/>
 </g>
</g>
<!-- hotel tower -->
<rect x="1136" y="1540" width="71" height="158" fill="#c0f5df"/>
<rect x="1136" y="1698" width="71" height="25" fill="#9ff0f2"/>
<g stroke="#111" stroke-width="2.5">
 <line x1="1136" y1="1540" x2="1207" y2="1540"/><line x1="1136" y1="1565" x2="1207" y2="1565"/><line x1="1136" y1="1593" x2="1207" y2="1593"/><line x1="1136" y1="1619" x2="1207" y2="1619"/><line x1="1136" y1="1645" x2="1207" y2="1645"/><line x1="1136" y1="1672" x2="1207" y2="1672"/><line x1="1136" y1="1698" x2="1207" y2="1698"/>
 <line x1="1136" y1="1529" x2="1136" y2="1783"/><line x1="1207" y1="1534" x2="1207" y2="1723"/><line x1="1117" y1="1529" x2="1117" y2="1783"/>
</g>
<line x1="1182" y1="1540" x2="1182" y2="1723" stroke="#333" stroke-width="1"/>
<g stroke="#111" stroke-width="1"><line x1="1122" y1="1534" x2="1122" y2="1783"/><line x1="1127" y1="1534" x2="1127" y2="1783"/><line x1="1131" y1="1534" x2="1131" y2="1783"/></g>
<!-- top structure -->
<rect x="1174" y="1504" width="282" height="25" fill="#f4f4f4" stroke="#111" stroke-width="3"/>
<g fill="none" stroke="#111" stroke-width="2">
 <ellipse cx="1188" cy="1519" rx="6" ry="8"/><ellipse cx="1204" cy="1519" rx="6" ry="8"/><ellipse cx="1220" cy="1519" rx="6" ry="8"/><ellipse cx="1236" cy="1519" rx="6" ry="8"/><ellipse cx="1252" cy="1519" rx="6" ry="8"/><ellipse cx="1268" cy="1519" rx="6" ry="8"/><ellipse cx="1284" cy="1519" rx="6" ry="8"/><ellipse cx="1380" cy="1519" rx="6" ry="8"/><ellipse cx="1396" cy="1519" rx="6" ry="8"/><ellipse cx="1412" cy="1519" rx="6" ry="8"/><ellipse cx="1428" cy="1519" rx="6" ry="8"/><ellipse cx="1444" cy="1519" rx="6" ry="8"/>
</g>
<!-- apartment tower -->
<rect x="3319" y="1529" width="68" height="194" fill="#dcae7e"/>
<rect x="3319" y="1520" width="101" height="13" fill="#f4f4f4" stroke="#333" stroke-width="2"/>
<g stroke="#111" stroke-width="2.5">
 <line x1="3319" y1="1563" x2="3395" y2="1563"/><line x1="3319" y1="1590" x2="3395" y2="1590"/><line x1="3319" y1="1616" x2="3395" y2="1616"/><line x1="3319" y1="1645" x2="3395" y2="1645"/><line x1="3319" y1="1670" x2="3395" y2="1670"/><line x1="3319" y1="1697" x2="3395" y2="1697"/>
 <line x1="3319" y1="1529" x2="3319" y2="1723"/><line x1="3387" y1="1533" x2="3387" y2="1723"/><line x1="3409" y1="1533" x2="3409" y2="1783"/>
</g>
<line x1="3340" y1="1533" x2="3340" y2="1723" stroke="#333" stroke-width="1"/>
<g stroke="#111" stroke-width="1"><line x1="3393" y1="1533" x2="3393" y2="1723"/><line x1="3398" y1="1533" x2="3398" y2="1723"/><line x1="3403" y1="1533" x2="3403" y2="1723"/><line x1="3415" y1="1690" x2="3415" y2="1783"/><line x1="3421" y1="1690" x2="3421" y2="1783"/><line x1="3428" y1="1690" x2="3428" y2="1783"/><line x1="3435" y1="1690" x2="3435" y2="1783"/></g>
<!-- terraces -->
<rect x="634" y="1714" width="483" height="13" fill="#fff" stroke="#111" stroke-width="2.5"/>
<line x1="634" y1="1720" x2="1117" y2="1720" stroke="#555" stroke-width="1" stroke-dasharray="30 4"/>
<rect x="3409" y="1714" width="358" height="13" fill="#fff" stroke="#111" stroke-width="2.5"/>
<line x1="3409" y1="1720" x2="3767" y2="1720" stroke="#555" stroke-width="1" stroke-dasharray="30 4"/>
<use href="#col" transform="translate(728,0)"/><use href="#col" transform="translate(808,0)"/><use href="#col" transform="translate(908,0)"/><use href="#col" transform="translate(986,0)"/>
<use href="#col" transform="translate(3455,0)"/><use href="#col" transform="translate(3669,0)"/>
<!-- ground line -->
<rect x="604" y="1783" width="2891" height="9" fill="#111"/>
<rect x="3495" y="1787" width="506" height="9" fill="#111"/>
<!-- red section line -->
<line x1="1545" y1="1419" x2="1545" y2="1918" stroke="#8b1a1a" stroke-width="4"/>
<g fill="#fff" stroke="#d33" stroke-width="1.5">
 <rect x="1554" y="1557" width="15" height="25"/><rect x="1554" y="1593" width="15" height="23"/><rect x="1554" y="1633" width="15" height="24"/><rect x="1554" y="1691" width="15" height="24"/><rect x="1554" y="1747" width="15" height="25"/>
</g>
<g class="s" fill="#c0392b" font-size="20" text-anchor="middle">
 <text x="1561" y="1577">7</text><text x="1561" y="1611">6</text><text x="1561" y="1652">4</text><text x="1561" y="1710">2</text><text x="1561" y="1767">1</text>
</g>
<!-- dims -->
<g stroke="#222" stroke-width="1.5" fill="none">
 <line x1="583" y1="1514" x2="652" y2="1514"/><line x1="578" y1="1514" x2="578" y2="1529"/><line x1="575" y1="1529" x2="1111" y2="1529" stroke="#666"/>
 <line x1="583" y1="1573" x2="652" y2="1573"/><line x1="578" y1="1573" x2="578" y2="1588"/><line x1="575" y1="1588" x2="1111" y2="1588" stroke="#666"/>
 <line x1="583" y1="1706" x2="642" y2="1706"/><line x1="578" y1="1706" x2="578" y2="1720"/><line x1="575" y1="1720" x2="634" y2="1720" stroke="#666"/>
 <line x1="583" y1="1766" x2="642" y2="1766"/><line x1="578" y1="1766" x2="578" y2="1781"/>
 <line x1="1250" y1="1490" x2="1328" y2="1490"/><line x1="1249" y1="1490" x2="1249" y2="1504"/>
</g>
<g fill="#222"><polygon points="574,1521 582,1521 578,1529"/><polygon points="574,1580 582,1580 578,1588"/><polygon points="574,1712 582,1712 578,1720"/><polygon points="574,1773 582,1773 578,1781"/><polygon points="1245,1497 1253,1497 1249,1504"/></g>
<g class="n" fill="#222" font-size="26">
 <text x="585" y="1511" textLength="65" lengthAdjust="spacingAndGlyphs">31,547</text>
 <text x="585" y="1570" textLength="65" lengthAdjust="spacingAndGlyphs">25,500</text>
 <text x="585" y="1703" textLength="55" lengthAdjust="spacingAndGlyphs">8,000</text>
 <text x="585" y="1763" textLength="55" lengthAdjust="spacingAndGlyphs">0,000</text>
 <text x="1255" y="1486" textLength="70" lengthAdjust="spacingAndGlyphs">34,490</text>
</g>
<g class="n g" font-size="26">
 <text x="442" y="1763" textLength="133" lengthAdjust="spacingAndGlyphs">набережная</text>
 <text x="984" y="1552" textLength="103" lengthAdjust="spacingAndGlyphs">3-8 этажи</text>
 <text x="984" y="1583" textLength="89" lengthAdjust="spacingAndGlyphs">отель 5*</text>
 <text x="708" y="1690" textLength="221" lengthAdjust="spacingAndGlyphs">приватный бассейн</text>
 <text x="968" y="1688" textLength="113" lengthAdjust="spacingAndGlyphs">SPA отель</text>
 <text x="2022" y="1488" textLength="119" lengthAdjust="spacingAndGlyphs">АКВАПАРК</text>
 <text x="3428" y="1589" textLength="104" lengthAdjust="spacingAndGlyphs">2-8 этажи</text>
 <text x="3428" y="1616" textLength="147" lengthAdjust="spacingAndGlyphs">апартаменты</text>
 <text x="3525" y="1686" textLength="235" lengthAdjust="spacingAndGlyphs">прогулочная терраса</text>
 <text x="3760" y="1758" textLength="203" lengthAdjust="spacingAndGlyphs">парковка гостевая</text>
</g>
<text class="n" x="1612" y="1729" font-size="28" fill="#111" textLength="124" lengthAdjust="spacingAndGlyphs">1-4 этажи</text>
<text class="n" x="1747" y="1850" font-size="28" font-weight="bold" fill="#1a1a1a" textLength="1384" lengthAdjust="spacingAndGlyphs">помещения социально-бытового назначения, торговли, бизнесцентр, конференцзал, рестораны, кафе, розничная торговля</text>
<text class="s" x="2308" y="1448" font-size="68" fill="#3d7a84" textLength="336" lengthAdjust="spacingAndGlyphs">разрез 1-1</text>
</svg>
</body></html>
